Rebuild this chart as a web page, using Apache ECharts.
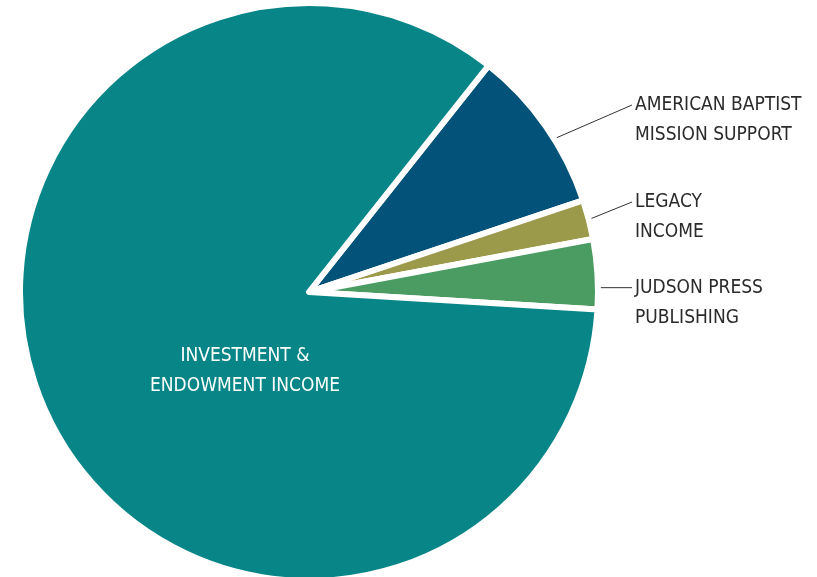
<!DOCTYPE html>
<html>
<head>
<meta charset="utf-8">
<script src="https://cdn.jsdelivr.net/npm/echarts@6/dist/echarts.min.js"></script>
<style>
  html, body { margin: 0; padding: 0; background: #ffffff; }
  #chart { width: 817px; height: 577px; }
</style>
</head>
<body>
<div id="chart"></div>
<script>
// ---- data ----
const categories = [
  'AMERICAN BAPTIST\nMISSION SUPPORT',
  'LEGACY\nINCOME',
  'JUDSON PRESS\nPUBLISHING',
  'INVESTMENT &\nENDOWMENT INCOME'
];
const values = [9.2, 2.2, 3.9, 84.7];
const colors = ['#03527a', '#9a9a4a', '#4b9c63', '#078587'];

// ---- layout / styling ----
const PIE_CX = 309, PIE_CY = 292, PIE_R = 289;
const FONT = "'DejaVu Sans Condensed', 'Liberation Sans Narrow', sans-serif";
const labelLineLen = [10.6, 10.2, 8, 0];
const labelLineLen2 = [75.7, 31.4, 24.6, 0];
const labelShiftX = [0, 0, 0, -64];
const labelShiftY = [0, 0, 29, 79];
const flatLine = [false, false, true, false];
const lineStartDeg = [32, null, null, null];

const seriesData = categories.map(function (name, i) {
  const inside = i === 3;
  return {
    name: name,
    value: values[i],
    itemStyle: { color: colors[i] },
    label: {
      position: inside ? 'center' : 'outside',
      color: inside ? '#ffffff' : '#2b2b2b',
      align: inside ? 'center' : 'left'
    },
    labelLine: {
      show: !inside,
      length: labelLineLen[i],
      length2: labelLineLen2[i]
    }
  };
});

const chart = echarts.init(document.getElementById('chart'), null, { renderer: 'canvas' });
chart.setOption({
  animation: false,
  backgroundColor: '#ffffff',
  series: [{
    type: 'pie',
    center: [PIE_CX, PIE_CY],
    radius: PIE_R,
    startAngle: 51.6,
    clockwise: true,
    avoidLabelOverlap: false,
    emphasis: { disabled: true },
    itemStyle: { borderColor: '#ffffff', borderWidth: 6, borderJoin: 'round' },
    label: {
      show: true,
      formatter: '{b}',
      fontFamily: FONT,
      fontSize: 19,
      lineHeight: 30,
      distanceToLabelLine: 5
    },
    labelLine: {
      show: true,
      lineStyle: { color: '#333333', width: 1 }
    },
    labelLayout: function (params) {
      const i = params.dataIndex;
      const r = params.labelRect;
      const cx = r.x + r.width / 2;
      const cy = r.y + r.height / 2;
      if (i === 3) {
        return { x: cx + labelShiftX[i], y: cy + labelShiftY[i] };
      }
      if (!params.labelLinePoints) { return {}; }
      const newY = cy + labelShiftY[i];
      const firstLineMid = newY - 15;
      let start = params.labelLinePoints[0];
      if (flatLine[i]) {
        const dy = firstLineMid - PIE_CY;
        start = [PIE_CX + Math.sqrt(PIE_R * PIE_R - dy * dy), firstLineMid];
      } else if (lineStartDeg[i] != null) {
        const a = lineStartDeg[i] * Math.PI / 180;
        start = [PIE_CX + PIE_R * Math.cos(a), PIE_CY - PIE_R * Math.sin(a)];
      }
      return {
        x: r.x,
        y: newY,
        labelLinePoints: [start, [r.x - 3, firstLineMid]]
      };
    },
    data: seriesData
  }]
});
</script>
</body>
</html>
